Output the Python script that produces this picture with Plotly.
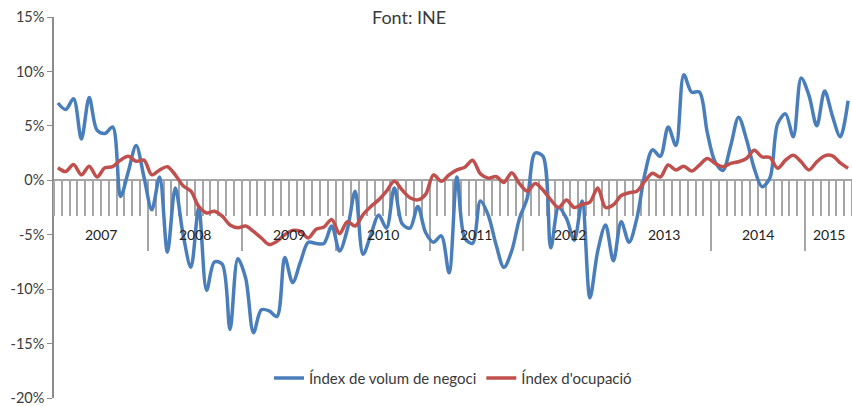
import plotly.graph_objects as go

# ---------------- data ----------------
years = ["2007", "2008", "2009", "2010", "2011", "2012", "2013", "2014", "2015"]
months_per_year = [12, 12, 12, 12, 12, 12, 12, 12, 6]

volum_negoci = [
    7.1, 6.5, 7.5, 3.8, 7.6, 4.6, 4.3, 4.9, -1.5, 0.8, 3.2, 0.3,          # 2007
    -2.7, 0.3, -6.6, -0.7, -5.0, -8.0, -2.5, -10.1, -7.5, -7.7, -13.7, -7.2,  # 2008
    -9.0, -14.0, -11.9, -12.0, -12.5, -7.1, -9.4, -7.5, -5.7, -5.8, -5.8, -4.2,  # 2009
    -6.5, -4.5, -1.0, -6.8, -5.0, -3.2, -4.4, -0.7, -4.0, -4.4, -2.4, -4.8,  # 2010
    -5.7, -5.1, -8.5, 0.3, -5.3, -5.8, -1.9, -3.2, -5.9, -8.0, -6.5, -3.5,  # 2011
    -1.6, 2.5, 2.2, -6.2, -2.5, -3.5, -5.5, -1.9, -10.8, -6.5, -4.1, -7.4,  # 2012
    -3.8, -5.7, -3.5, 0.5, 2.8, 2.2, 4.9, 3.2, 9.7, 8.1, 8.1, 4.4,        # 2013
    1.7, 0.9, 3.2, 5.8, 3.8, 1.1, -0.6, 0.2, 5.2, 6.1, 4.0, 9.4,          # 2014
    7.8, 5.0, 8.2, 5.9, 4.0, 7.3,                                          # 2015
]

ocupacio = [
    1.15, 0.8, 1.45, 0.5, 1.3, 0.3, 1.15, 1.25, 1.85, 2.2, 1.75, 1.85,    # 2007
    0.5, 0.95, 1.25, 0.5, -0.5, -1.0, -2.4, -3.0, -2.85, -3.3, -4.1, -4.35,  # 2008
    -4.2, -4.7, -5.3, -5.9, -5.6, -5.0, -4.6, -4.7, -5.3, -4.5, -4.3, -3.6,  # 2009
    -4.9, -3.8, -4.2, -3.15, -2.4, -1.8, -1.0, -0.1, -0.9, -1.6, -1.8, -1.3,  # 2010
    0.5, -0.1, 0.5, 0.95, 1.2, 1.85, 0.6, 0.2, 0.35, -0.2, 0.7, -0.3,     # 2011
    -1.0, -0.3, -0.9, -1.8, -2.5, -1.8, -2.5, -2.2, -2.0, -0.7, -2.5, -2.25,  # 2012
    -1.4, -1.15, -1.0, -0.1, 0.65, 0.3, 1.4, 0.95, 1.3, 0.85, 1.4, 2.0,   # 2013
    1.55, 1.25, 1.55, 1.7, 2.0, 2.75, 2.15, 2.1, 1.1, 1.85, 2.3, 1.7,     # 2014
    0.95, 1.7, 2.25, 2.25, 1.6, 1.1,                                       # 2015
]

y_tickvals = [-20, -15, -10, -5, 0, 5, 10, 15]
y_ticktext = ["-20%", "-15%", "-10%", "-5%", "0%", "5%", "10%", "15%"]

series_names = ["Índex de volum de negoci", "Índex d'ocupació"]
title_text = "Font: INE"

# ---------------- derived positions (category axis) ----------------
n_months = sum(months_per_year)
x_pos = [i + 0.5 for i in range(n_months)]  # category centers
year_starts = []
acc = 0
for m in months_per_year:
    year_starts.append(acc)
    acc += m
year_centers = [s + m / 2 for s, m in zip(year_starts, months_per_year)]
year_bounds = year_starts[1:]

FONT = "Lato, 'Open Sans', sans-serif"
TXT = "#3a3a3a"
GRID = "#a6a6a6"

y_min, y_max = -20, 15
zero_frac = (0 - y_min) / (y_max - y_min)

fig = go.Figure()
fig.add_trace(go.Scatter(
    x=x_pos, y=volum_negoci, name=series_names[0], mode="lines",
    line=dict(color="#4a7ebb", width=3.5, shape="spline", smoothing=0.9),
))
fig.add_trace(go.Scatter(
    x=x_pos, y=ocupacio, name=series_names[1], mode="lines",
    line=dict(color="#c0504d", width=3.5, shape="spline", smoothing=0.9),
))

annotations = [
    dict(x=c, y=-5, xref="x", yref="y", text=t, showarrow=False,
         font=dict(family=FONT, size=14, color="#222222"),
         xanchor="center", yanchor="middle")
    for c, t in zip(year_centers, years)
]
annotations.append(dict(
    x=(409 - 54) / 798, y=1.0, xref="paper", yref="paper", text=title_text,
    showarrow=False, font=dict(family=FONT, size=18, color=TXT),
    xanchor="center", yanchor="middle"))

fig.update_layout(
    width=852, height=406,
    margin=dict(l=54, r=0, t=17, b=8),
    paper_bgcolor="white", plot_bgcolor="white",
    font=dict(family=FONT, size=14, color=TXT),
    showlegend=True,
    legend=dict(orientation="h", x=0.5, xanchor="center", y=0.052, yanchor="middle",
                font=dict(family=FONT, size=15, color=TXT), bgcolor="rgba(0,0,0,0)",
                itemwidth=30),
    annotations=annotations,
    xaxis=dict(
        range=[0, n_months], showgrid=False, zeroline=False, automargin=False,
        anchor="free", position=zero_frac,
        showline=True, linecolor=GRID, linewidth=1.5,
        tickmode="array", tickvals=year_bounds, ticks="outside", ticklen=70,
        tickcolor=GRID, tickwidth=1.5, showticklabels=False,
        minor=dict(dtick=1, tick0=0, ticks="outside", ticklen=35,
                   tickcolor=GRID, tickwidth=1.5, showgrid=False),
        layer="below traces",
    ),
    yaxis=dict(
        range=[y_min, y_max], showgrid=False, zeroline=False, automargin=False,
        tickmode="array", tickvals=y_tickvals, ticktext=y_ticktext,
        ticks="outside", ticklen=5, tickcolor="#8c8c8c",
        showline=True, linecolor="#8c8c8c", linewidth=1.5,
        tickfont=dict(family=FONT, size=14.5, color=TXT),
        ticklabeloverflow="allow",
        layer="below traces",
    ),
)

fig.write_html("out.html",
               config={"displayModeBar": False},
               post_script="document.body.style.margin='0';document.body.style.overflow='hidden';")
